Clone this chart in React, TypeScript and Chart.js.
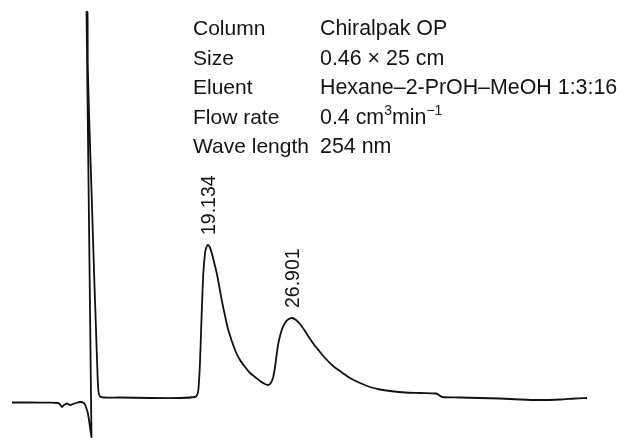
import React, { useEffect, useRef } from "react";
import { Chart, registerables } from "chart.js";

Chart.register(...registerables);

// Retention time (min) of each sampled point of the trace
const retentionTimes = [
  1.01, 2.67, 4.52, 5.26, 5.45, 5.63, 5.82, 6.1, 6.37, 6.65, 6.93, 7.3, 7.67, 7.85, 8.04, 8.22, 8.36,
  7.9, 7.99, 8.02, 8.18, 8.39, 8.59, 8.78, 8.92, 9.01, 9.15, 9.52, 11.0, 13.77, 16.54,
  17.93, 18.12, 18.24, 18.39, 18.55, 18.7, 18.86, 18.99, 19.13, 19.29, 19.48, 19.69, 19.94, 20.15,
  20.4, 20.71, 21.01, 21.63, 22.09, 22.56, 23.02, 23.48, 23.94, 24.4, 24.68, 24.91, 25.14, 25.33,
  25.51, 25.7, 25.98, 26.25, 26.53, 26.9, 27.27, 27.64, 28.1, 28.57, 29.03, 29.49, 30.04, 30.69,
  31.34, 32.26, 33.19, 34.11, 35.04, 35.96, 37.35, 38.74, 40.22, 40.49, 40.77, 42.43, 44.28,
  46.13, 47.98, 49.83, 51.68, 53.07, 54.18,
];

// Detector signal (arbitrary units) at each retention time
const signal = [
  -2.5, -2.5, -2.7, -3, -4.5, -7, -5, -3.5, -5, -4, -3, -2, -3, -7, -14, -27, -37,
  388, 388, 333, 270, 200, 130, 70, 25, 8, 3.5, 2.5, 2.5, 2, 2,
  3, 5, 10, 37, 87, 127, 147, 153, 155, 153, 147, 138, 127, 115,
  100, 84, 70, 50, 40, 33, 27, 23, 19, 16, 15, 16.5, 22, 33,
  48, 60, 71, 77, 80.5, 82, 80, 76, 69, 61, 54, 48, 41, 34,
  29, 22, 17, 13, 10.5, 9, 7.5, 7, 6.5, 5, 3, 2.5, 2,
  1.5, 0.5, 0, 0.5, 1.5, 2,
];

const peakTimes = [19.134, 26.901];
const peakLabels = ["19.134", "26.901"];

const infoLabels = ["Column", "Size", "Eluent", "Flow rate", "Wave length"];
// {..} marks superscript
const infoValues = [
  "Chiralpak OP",
  "0.46 \u00d7 25 cm",
  "Hexane\u20132-PrOH\u2013MeOH 1:3:16",
  "0.4 cm{3}min{\u22121}",
  "254 nm",
];

const FONT_FAMILY = '"Liberation Sans", Arial, Helvetica, sans-serif';

function drawRich(ctx: CanvasRenderingContext2D, text: string, x: number, y: number, size: number) {
  const parts = text.split(/(\{[^}]*\})/).filter((p) => p.length > 0);
  let cx = x;
  for (const p of parts) {
    if (p.startsWith("{")) {
      const s = p.slice(1, -1);
      ctx.font = `${Math.round(size * 0.66)}px ${FONT_FAMILY}`;
      ctx.fillText(s, cx, y - size * 0.42);
      cx += ctx.measureText(s).width;
    } else {
      ctx.font = `${size}px ${FONT_FAMILY}`;
      ctx.fillText(p, cx, y);
      cx += ctx.measureText(p).width;
    }
  }
}

const annotationPlugin = {
  id: "chromAnnotations",
  afterDraw(chart: any) {
    const { ctx, scales } = chart;
    const xs = scales.x;
    const ys = scales.y;
    ctx.save();
    ctx.fillStyle = "#141414";
    ctx.textBaseline = "alphabetic";
    ctx.textAlign = "left";

    // Method table
    const labelSize = 21;
    const valueSize = 21.4;
    const labelX = 193;
    const valueX = 320;
    const firstBase = 35;
    const step = 29.5;
    infoLabels.forEach((lab, i) => {
      const by = firstBase + i * step;
      ctx.font = `${labelSize}px ${FONT_FAMILY}`;
      ctx.fillText(lab, labelX, by);
      drawRich(ctx, infoValues[i], valueX, by, valueSize);
    });

    // Peak retention-time labels (rotated)
    peakTimes.forEach((t, i) => {
      let best = 0;
      let bestD = Infinity;
      retentionTimes.forEach((rt, j) => {
        const d = Math.abs(rt - t);
        if (d < bestD) {
          bestD = d;
          best = j;
        }
      });
      const px = xs.getPixelForValue(t);
      const py = ys.getPixelForValue(signal[best]);
      ctx.save();
      ctx.translate(px + 1.5, py - 10);
      ctx.rotate(-Math.PI / 2);
      ctx.font = `19.5px ${FONT_FAMILY}`;
      ctx.textAlign = "left";
      ctx.textBaseline = "middle";
      ctx.fillText(peakLabels[i], 0, 0);
      ctx.restore();
    });
    ctx.restore();
  },
};

export default function App() {
  const canvasRef = useRef<HTMLCanvasElement | null>(null);

  useEffect(() => {
    if (!canvasRef.current) return;
    const points = retentionTimes.map((t, i) => ({ x: t, y: signal[i] }));
    const chart = new Chart(canvasRef.current, {
      type: "line",
      data: {
        datasets: [
          {
            data: points,
            borderColor: "#111111",
            borderWidth: 1.8,
            pointRadius: 0,
            tension: 0.25,
            fill: false,
          },
        ],
      },
      options: {
        responsive: false,
        animation: false,
        parsing: true,
        layout: { padding: 0 },
        plugins: {
          legend: { display: false },
          tooltip: { enabled: false },
          title: { display: false },
        },
        scales: {
          x: { type: "linear", min: -0.099, max: 57.78, display: false },
          y: { type: "linear", min: -38, max: 400, display: false },
        },
      },
      plugins: [annotationPlugin],
    });
    return () => chart.destroy();
  }, []);

  return (
    <div style={{ position: "fixed", left: 0, top: 0, width: 626, height: 438, background: "#fff" }}>
      <canvas ref={canvasRef} width={626} height={438} style={{ display: "block" }} />
    </div>
  );
}
